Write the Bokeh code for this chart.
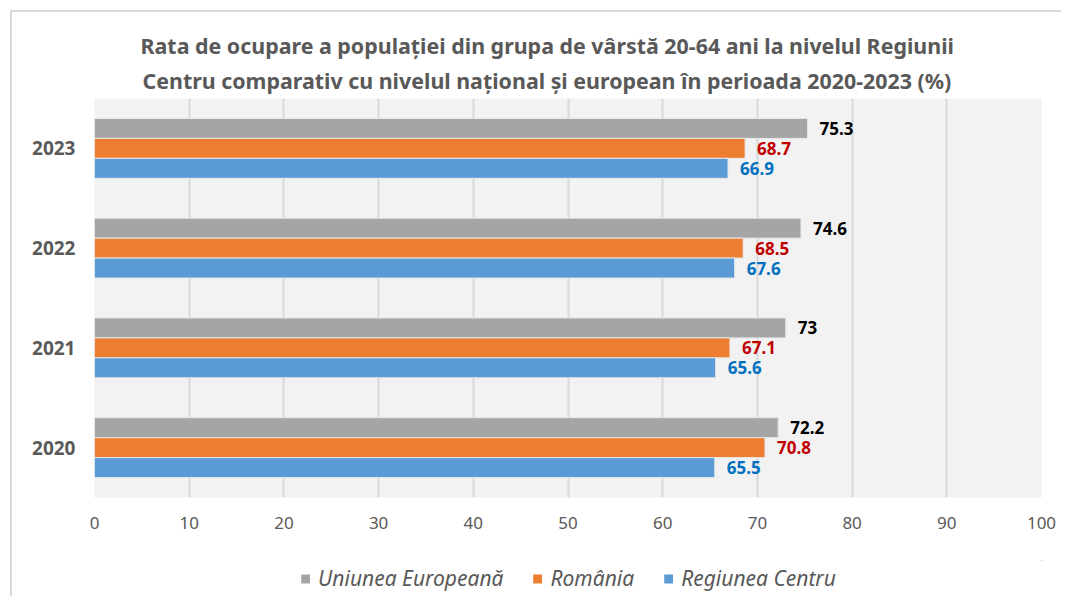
from bokeh.plotting import figure
from bokeh.layouts import column
from bokeh.models import ColumnDataSource, FactorRange, Legend, LegendItem, Title
from bokeh.transform import dodge
from bokeh.embed import file_html
from bokeh.resources import INLINE
from bokeh.core.properties import value

years = ["2020", "2021", "2022", "2023"]
ue = [72.2, 73, 74.6, 75.3]
ro = [70.8, 67.1, 68.5, 68.7]
centru = [65.5, 65.6, 67.6, 66.9]
series_names = ["Uniunea Europeană", "România", "Regiunea Centru"]
x_ticks = [0, 10, 20, 30, 40, 50, 60, 70, 80, 90, 100]

src = ColumnDataSource(dict(
    year=years, ue=ue, ro=ro, centru=centru,
    ue_t=[f"{v:g}" for v in ue],
    ro_t=[f"{v:g}" for v in ro],
    centru_t=[f"{v:g}" for v in centru],
))

FONT = "Noto Sans"
GRAY_TXT = "#595959"

p = figure(width=1049, height=524, y_range=FactorRange(factors=years, range_padding=0),
           x_range=(0, 100), output_backend="svg", toolbar_location=None,
           min_border_left=82, min_border_right=20, min_border_top=86, min_border_bottom=39)

p.background_fill_color = "#f2f2f2"
p.outline_line_color = None
p.xgrid.grid_line_color = "#d9d9d9"
p.xgrid.grid_line_width = 2
p.ygrid.grid_line_color = None
p.xaxis.ticker = x_ticks

p.xaxis.axis_line_color = None
p.yaxis.axis_line_color = None
p.xaxis.major_tick_line_color = None
p.yaxis.major_tick_line_color = None
p.xaxis.minor_tick_line_color = None
p.xaxis.major_label_text_font = FONT
p.xaxis.major_label_text_font_size = "17px"
p.xaxis.major_label_text_color = GRAY_TXT
p.xaxis.major_label_standoff = 13
p.yaxis.major_label_text_font = FONT
p.yaxis.major_label_text_font_size = "19px"
p.yaxis.major_label_text_font_style = "bold"
p.yaxis.major_label_text_color = GRAY_TXT
p.yaxis.major_label_standoff = 13

h = 0.2
colors = ["#a5a5a5", "#ed7d31", "#5b9bd5"]
fields = ["ue", "ro", "centru"]
offsets = [0.2, 0.0, -0.2]
lbl_colors = ["#000000", "#c00000", "#0070c0"]
for f, c, o, lc in zip(fields, colors, offsets, lbl_colors):
    p.hbar(y=dodge("year", o, range=p.y_range), right=f, left=0, height=h,
           source=src, fill_color=c, line_color="#e8e8e8", line_width=1)
    p.text(x=f, y=dodge("year", o, range=p.y_range), text=f + "_t", source=src,
           x_offset=12, text_baseline="middle", text_align="left",
           text_font=value(FONT), text_font_size="17px", text_font_style="bold",
           text_color=lc)

t2 = Title(text="Centru comparativ cu nivelul național și european în perioada 2020-2023 (%)",
           align="left", text_font=FONT, text_font_size="21.4px", text_font_style="bold",
           text_color=GRAY_TXT, offset=48, standoff=7)
t1 = Title(text="Rata de ocupare a populației din grupa de vârstă 20-64 ani la nivelul Regiunii",
           align="left", text_font=FONT, text_font_size="21.4px", text_font_style="bold",
           text_color=GRAY_TXT, offset=46, standoff=2)
p.add_layout(t2, "above")
p.add_layout(t1, "above")

# legend in a separate strip below the chart
lg = figure(width=1049, height=60, x_range=(-3, -2), y_range=(-3, -2),
            x_axis_type=None, y_axis_type=None,
            output_backend="svg", toolbar_location=None,
            min_border_left=33, min_border_right=0, min_border_top=24, min_border_bottom=0)
lg.grid.grid_line_color = None
lg.outline_line_color = None
lg.background_fill_alpha = 0
leg_renderers = [lg.hbar(y=f, right=f, left=0, height=0.1, source=src,
                         fill_color=c, line_color=None)
                 for f, c in zip(fields, colors)]
legend = Legend(items=[LegendItem(label=n, renderers=[r]) for n, r in zip(series_names, leg_renderers)],
                orientation="horizontal", location="center",
                label_text_font=FONT, label_text_font_size="21px",
                label_text_font_style="italic", label_text_color=GRAY_TXT,
                glyph_width=11, glyph_height=11, label_standoff=8, spacing=28,
                border_line_color=None, background_fill_alpha=0)
lg.add_layout(legend, "center")

layout = column(p, lg, spacing=0)
layout.styles = {"border-top": "2px solid #d9d9d9", "border-left": "2px solid #d9d9d9",
                 "margin-left": "10px", "margin-top": "10px"}

open("out.html", "w").write(file_html(layout, INLINE))
